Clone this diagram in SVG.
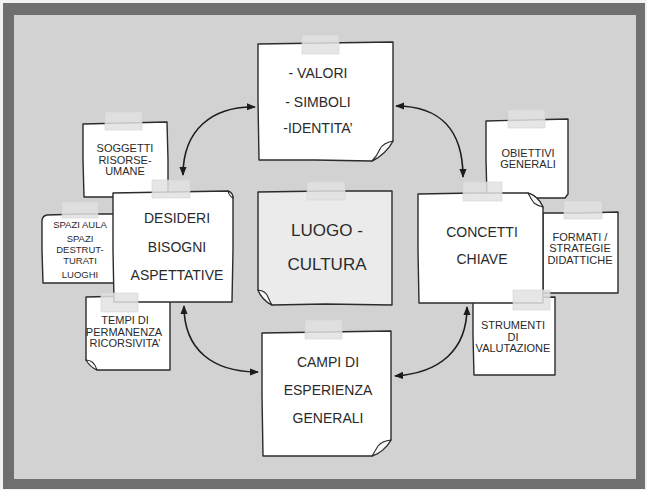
<svg xmlns="http://www.w3.org/2000/svg" width="647" height="490" viewBox="0 0 647 490">
<style>
.note{fill:#fff;stroke:#2b2b2b;stroke-width:1.4;stroke-linejoin:round}
.grey{fill:#ebebeb}
.fold{fill:#f7f7f7;stroke:#2b2b2b;stroke-width:1.1;stroke-linejoin:round}
.tape{fill:#e2e2e2;fill-opacity:0.85;stroke:#d4d4d4;stroke-width:0.6}
.tx{font-family:"Liberation Sans",Arial,sans-serif;fill:#2a2a2a;text-anchor:middle}
.big{font-size:14px}
.sm{font-size:11px}
.xs{font-size:9.5px}
.hg{font-size:17px}
.conn{fill:none;stroke:#1c1c1c;stroke-width:1.6;marker-start:url(#ah);marker-end:url(#ah)}
</style>
<defs>
<marker id="ah" viewBox="0 0 10 10" refX="9" refY="5" markerWidth="9" markerHeight="9" markerUnits="userSpaceOnUse" orient="auto-start-reverse">
<path d="M0,1 L10,5 L0,9 Z" fill="#1c1c1c"/>
</marker>
</defs>
<rect x="0" y="0" width="647" height="490" fill="#f2f2f2"/>
<rect x="3" y="3" width="642" height="486" fill="#6f6f6f"/>
<rect x="14" y="15" width="622" height="464" fill="#d3d2d3"/>

<g id="connectors">
<path class="conn" d="M255,107 C212,106 183,130 183,175"/>
<path class="conn" d="M396,106 C440,106 463,130 463,177"/>
<path class="conn" d="M184,306 C184,350 213,372 258,372"/>
<path class="conn" d="M395,376 C440,373 467,350 467,307"/>
</g>

<g id="soggetti">
<path class="note" d="M83,124 L125,123 L167,122 L168,160 L168,196 L125,197 L84,197 L83,160 Z"/>
<text class="tx sm" x="125" y="152">SOGGETTI</text>
<text class="tx sm" x="125" y="164">RISORSE-</text>
<text class="tx sm" x="125" y="175">UMANE</text>
</g>

<g id="spazi">
<path class="note" d="M47,215 L80,214 L116,214 L116,250 L115,283 L80,283 L43,283 L42,250 L42,221 Q42,216 47,215 Z"/>
<text class="tx xs" x="80" y="228">SPAZI AULA</text>
<text class="tx xs" x="80" y="242">SPAZI</text>
<text class="tx xs" x="80" y="253">DESTRUT-</text>
<text class="tx xs" x="80" y="264">TURATI</text>
<text class="tx xs" x="80" y="278">LUOGHI</text>
</g>

<g id="tempi">
<path class="note" d="M86,297 L128,296 L170,296 L170,333 L170,370 L130,370 L97,370 L86,360 L86,330 Z"/>
<path class="fold" d="M86,360 Q94,360 97,370 Q90,367 86,360 Z"/>
<text class="tx sm" x="125" y="324">TEMPI DI</text>
<text class="tx sm" x="124" y="336">PERMANENZA</text>
<text class="tx sm" x="125" y="347">RICORSIVITA’</text>
</g>

<g id="desideri">
<path class="note" d="M113,193 L170,192 L228,191 Q233,193 233,198 L233,250 L232,302 L170,302 L114,302 L113,250 Z"/>
<path class="fold" d="M228,191 Q229,196 233,198 Q233,193 228,191 Z"/>
<text class="tx big" x="177" y="223">DESIDERI</text>
<text class="tx big" x="177" y="252">BISOGNI</text>
<text class="tx big" x="177" y="280">ASPETTATIVE</text>
</g>

<g id="valori">
<path class="note" d="M258,44 L325,43 L393,42 L393,90 L393,141 Q386,154 372,161 L315,160 L259,160 L258,100 Z"/>
<path class="fold" d="M393,141 Q383,143 380,149 Q377,156 372,161 Q386,154 393,141 Z"/>
<text class="tx big" x="318" y="78">- VALORI</text>
<text class="tx big" x="318" y="107">- SIMBOLI</text>
<text class="tx big" x="318" y="133">-IDENTITA’</text>
</g>

<g id="luogo">
<path class="note grey" d="M258,192 L325,191 L392,191 L392,248 L392,305 L325,304 L272,305 Q262,300 258,290 L258,240 Z"/>
<path class="fold" d="M258,290 Q266,291 268,297 Q270,302 272,305 Q262,300 258,290 Z"/>
<text class="tx hg" x="327" y="236">LUOGO -</text>
<text class="tx hg" x="327" y="270">CULTURA</text>
</g>

<g id="obiettivi">
<path class="note" d="M486,121 L527,120 L568,119 L568,160 L568,194 L565,198 L527,198 L487,198 L486,160 Z"/>
<text class="tx sm" x="528" y="157">OBIETTIVI</text>
<text class="tx sm" x="528" y="168">GENERALI</text>
</g>

<g id="formati">
<path class="note" d="M543,213 L580,213 L618,212 L618,253 L618,293 L580,293 L543,293 Z"/>
<text class="tx sm" x="580" y="241">FORMATI /</text>
<text class="tx sm" x="580" y="252">STRATEGIE</text>
<text class="tx sm" x="580" y="264">DIDATTICHE</text>
</g>

<g id="strumenti">
<path class="note" d="M473,298 L514,298 L555,297 L555,336 L555,375 L514,375 L474,375 L473,336 Z"/>
<text class="tx sm" x="513" y="329">STRUMENTI</text>
<text class="tx sm" x="513" y="341">DI</text>
<text class="tx sm" x="513" y="352">VALUTAZIONE</text>
</g>

<g id="concetti">
<path class="note" d="M418,194 L475,193 L528,193 Q538,196 543,207 L543,255 L543,303 L480,303 L419,303 L418,250 Z"/>
<path class="fold" d="M528,193 Q531,199 534,203 Q538,206 543,207 Q538,196 528,193 Z"/>
<text class="tx big" x="482" y="237">CONCETTI</text>
<text class="tx big" x="482" y="264">CHIAVE</text>
</g>

<g id="campi">
<path class="note" d="M262,333 L326,332 L391,331 L391,390 L391,440 Q384,452 372,456 L320,456 L263,456 L262,395 Z"/>
<path class="fold" d="M391,440 Q382,441 378,446 Q375,451 372,456 Q384,452 391,440 Z"/>
<text class="tx big" x="328" y="367">CAMPI DI</text>
<text class="tx big" x="328" y="395">ESPERIENZA</text>
<text class="tx big" x="328" y="423">GENERALI</text>
</g>

<g id="tapes">
<rect class="tape" x="302" y="35" width="37" height="19"/>
<rect class="tape" x="105" y="112" width="37" height="18"/>
<rect class="tape" x="62" y="202" width="36" height="16"/>
<rect class="tape" x="152" y="180" width="38" height="18"/>
<rect class="tape" x="101" y="293" width="37" height="19"/>
<rect class="tape" x="307" y="182" width="38" height="18"/>
<rect class="tape" x="508" y="110" width="37" height="18"/>
<rect class="tape" x="463" y="182" width="39" height="19"/>
<rect class="tape" x="564" y="201" width="38" height="18"/>
<rect class="tape" x="513" y="290" width="37" height="20"/>
<rect class="tape" x="305" y="320" width="37" height="19"/>
</g>
</svg>
